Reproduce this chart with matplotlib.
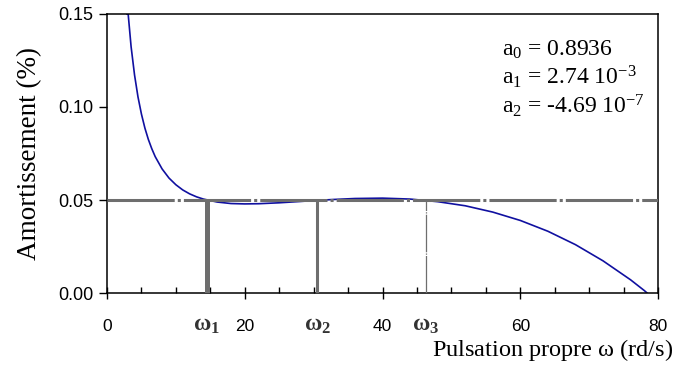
import matplotlib
matplotlib.use("Agg")
import matplotlib.pyplot as plt
from matplotlib.ticker import MultipleLocator, FormatStrFormatter

# damping curve
omega = [2.9, 3.0, 3.5, 4, 4.5, 5, 5.5, 6, 6.5, 7, 8, 9, 10, 11, 12, 13, 14,
         16, 18, 20, 22, 25, 28, 30, 33, 36, 40, 44, 48, 52, 56, 60, 64, 68,
         72, 76, 78, 78.4]
damping = [0.150, 0.1530, 0.1324, 0.1172, 0.1054, 0.0962, 0.0887, 0.0826,
           0.0776, 0.0733, 0.0667, 0.0618, 0.0582, 0.0554, 0.0533, 0.0517,
           0.0505, 0.0489, 0.0481, 0.0479, 0.0480, 0.0485, 0.0492, 0.0497,
           0.0503, 0.0508, 0.0510, 0.0505, 0.0491, 0.0469, 0.0435, 0.0390,
           0.0332, 0.0260, 0.0173, 0.0071, 0.0013, 0.0]

target = 0.05
omega_marks = [14.5, 30.5, 46.3]
omega_names = [r"$\mathbf{\omega_1}$", r"$\mathbf{\omega_2}$", r"$\mathbf{\omega_3}$"]
mark_widths = [3.6, 2.2, 0.9]

coef_lines = [r"a$_0$ = 0.8936", r"a$_1$ = 2.74 10$^{-3}$", r"a$_2$ = -4.69 10$^{-7}$"]

grey = "#6e6e6e"
plt.rcParams["mathtext.fontset"] = "custom"
plt.rcParams["mathtext.rm"] = "Liberation Serif"
plt.rcParams["mathtext.it"] = "Liberation Serif"
plt.rcParams["mathtext.bf"] = "Liberation Serif:bold"

fig = plt.figure(figsize=(6.75, 3.67), dpi=100)
ax = fig.add_axes([0.1585, 0.2016, 0.8165, 0.7603])

ax.plot(omega, damping, color="#1010a0", lw=1.2, zorder=2)
ax.axhline(target, color=grey, lw=2.2, ls=(0, (22, 1, 1, 1)), zorder=3)
for w, lw in zip(omega_marks, mark_widths):
    ax.plot([w, w], [0, target], color=grey, lw=lw, ls=(0, (30, 1, 1, 1)), zorder=3)

ax.set_xlim(0, 80)
ax.set_ylim(0, 0.15)
ax.xaxis.set_major_locator(MultipleLocator(20))
ax.xaxis.set_minor_locator(MultipleLocator(5))
ax.yaxis.set_major_locator(MultipleLocator(0.05))
ax.yaxis.set_major_formatter(FormatStrFormatter("%.2f"))
ax.tick_params(axis="x", which="major", direction="inout", length=9, width=1,
               labelsize=12.5, pad=14)
ax.tick_params(axis="x", which="minor", direction="in", length=4, width=1)
ax.tick_params(axis="y", direction="out", length=6, width=1, labelsize=13, pad=4)
for lab in ax.get_xticklabels() + ax.get_yticklabels():
    lab.set_fontfamily("Liberation Sans")
for s in ax.spines.values():
    s.set_linewidth(1.1)

for w, name in zip(omega_marks, omega_names):
    ax.text(w, -0.010, name, ha="center", va="top", fontsize=17, color="#333333")

ax.text(0.717, 0.91, "\n".join(coef_lines), transform=ax.transAxes,
        ha="left", va="top", fontsize=17, fontfamily="Liberation Serif",
        linespacing=1.1)

ax.set_ylabel("Amortissement (%)", fontsize=19.5, fontfamily="Liberation Serif",
              labelpad=11)
fig.text(0.997, 0.031, r"Pulsation propre $\omega$ (rd/s)", ha="right",
         va="baseline", fontsize=17.5, fontfamily="Liberation Serif")

fig.savefig("out.png", dpi=100)
